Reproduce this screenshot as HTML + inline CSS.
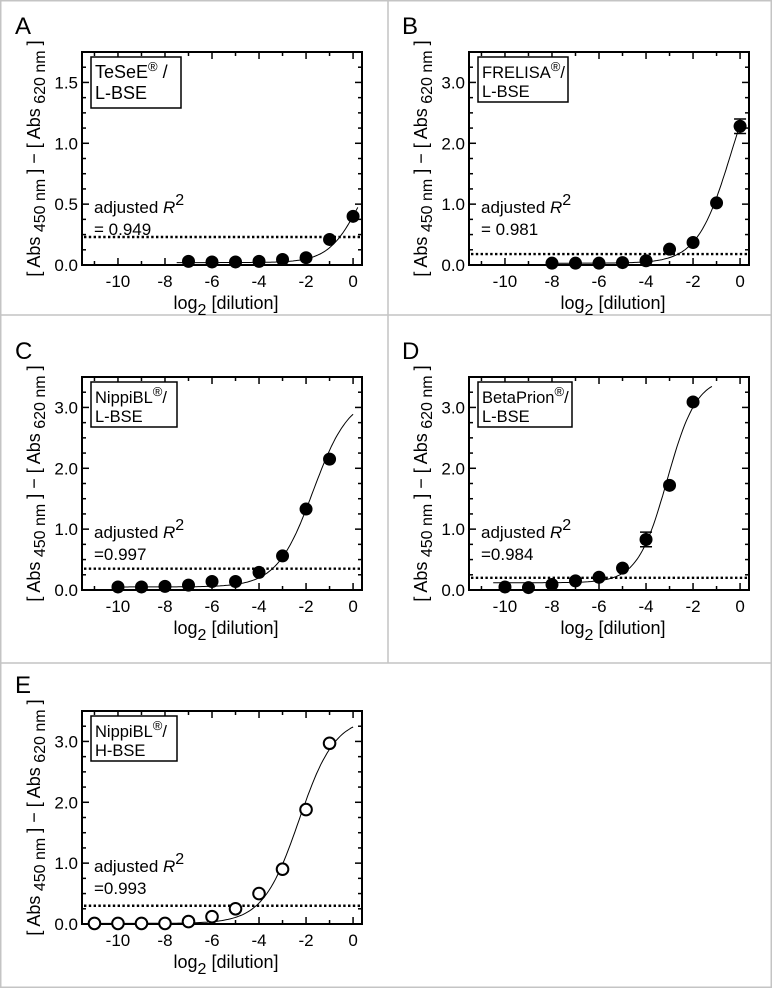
<!DOCTYPE html>
<html><head><meta charset="utf-8"><style>
html,body{margin:0;padding:0;background:#fff;}
svg{display:block;font-family:"Liberation Sans",Arial,sans-serif;}
</style></head><body>
<svg id="fig" width="772" height="988" viewBox="0 0 772 988">
  <g stroke="#c4c4c4" stroke-width="1.5" fill="none">
    <rect x="0.75" y="0.75" width="770.5" height="986.5"/>
    <line x1="388" y1="0" x2="388" y2="663"/>
    <line x1="0" y1="315" x2="772" y2="315"/>
    <line x1="0" y1="663" x2="772" y2="663"/>
  </g>
</svg>
<script>
// ---- data ----
const panelLetters = ["A","B","C","D","E"];
const assayNames = ["TeSeE","FRELISA","NippiBL","BetaPrion","NippiBL"];
const strainNames = ["L-BSE","L-BSE","L-BSE","L-BSE","H-BSE"];
const r2Labels = ["= 0.949","= 0.981","=0.997","=0.984","=0.993"];
const yMaxValues = [1.75,3.5,3.5,3.5,3.5];
const yTickLabelsA = ["0.0","0.5","1.0","1.5"];
const yTickLabelsB = ["0.0","1.0","2.0","3.0"];
const xTickLabels = ["-10","-8","-6","-4","-2","0"];
const xA = [-7,-6,-5,-4,-3,-2,-1,0];
const yA = [0.03,0.025,0.025,0.03,0.045,0.06,0.21,0.40];
const xB = [-8,-7,-6,-5,-4,-3,-2,-1,0];
const yB = [0.03,0.03,0.03,0.04,0.07,0.26,0.37,1.02,2.28];
const errB = [0,0,0,0,0,0,0,0,0.12];
const xC = [-10,-9,-8,-7,-6,-5,-4,-3,-2,-1];
const yC = [0.05,0.05,0.06,0.08,0.14,0.14,0.29,0.56,1.33,2.15];
const xD = [-10,-9,-8,-7,-6,-5,-4,-3,-2];
const yD = [0.05,0.04,0.09,0.15,0.21,0.36,0.83,1.72,3.09];
const errD = [0,0,0,0,0,0,0.12,0,0];
const xE = [-11,-10,-9,-8,-7,-6,-5,-4,-3,-2,-1];
const yE = [0.01,0.01,0.01,0.01,0.04,0.12,0.25,0.5,0.9,1.88,2.97];
const cutoffs = [0.23,0.18,0.35,0.2,0.3];
// logistic fit params: bottom, top, midpoint, slope
const fitBottom = [0.02,0.03,0.05,0.12,0.01];
const fitTop = [1.0,3.6,3.2,3.5,3.4];
const fitMid = [0.3,-0.4,-1.7,-3.1,-2.3];
const fitSlope = [1.5,1.4,1.3,1.6,1.3];
const fitStart = [-7.5,-8,-10,-10.5,-11];
const fitEnd = [0.2,0,0,-1.2,0];

const NS="http://www.w3.org/2000/svg";
const svg=document.getElementById('fig');
function mk(tag,attrs,parent){const e=document.createElementNS(NS,tag);for(const k in attrs)e.setAttribute(k,attrs[k]);(parent||svg).appendChild(e);return e;}

const boxLeft=[82,469,82,469,82], boxTop=[52,52,377,377,711];
const legendW=[90,90,86,94,86];
const W=280,H=213, XMIN=-11.53, XMAX=0.38;
const xsAll=[xA,xB,xC,xD,xE], ysAll=[yA,yB,yC,yD,yE], errAll=[null,errB,null,errD,null];

for(let p=0;p<5;p++){
  const L=boxLeft[p],T=boxTop[p],B=T+H,ymax=yMaxValues[p];
  const sx=v=>L+(v-XMIN)/(XMAX-XMIN)*W;
  const sy=v=>B-v/ymax*H;
  const g=mk('g',{});
  
  
  const t=mk('text',{x:L-67,y:T-18,'font-size':24,fill:'#000'},g);t.textContent=panelLetters[p];
  
  
  const fr=mk('rect',{x:L,y:T,width:W,height:H,fill:'none',stroke:'#000','stroke-width':2},g);
  
  
  for(let v=-11;v<=0;v++){
    const len=(v%2===0)?7:4;
    mk('line',{x1:sx(v),x2:sx(v),y1:B,y2:B-len,stroke:'#000','stroke-width':1.5},g);
    mk('line',{x1:sx(v),x2:sx(v),y1:T,y2:T+len,stroke:'#000','stroke-width':1.5},g);
  }
  xTickLabels.forEach(s=>{const v=parseFloat(s);const tx=mk('text',{x:sx(v),y:B+22,'font-size':17,'text-anchor':'middle'},g);tx.textContent=s;
    
    });
  const minor=ymax<2?0.125:0.25, major=ymax<2?0.5:1.0;
  for(let v=0;v<=ymax+1e-9;v+=minor){
    const isMaj=Math.abs(v/major-Math.round(v/major))<1e-6;const len=isMaj?7:4;
    mk('line',{x1:L,x2:L+len,y1:sy(v),y2:sy(v),stroke:'#000','stroke-width':1.5},g);
    mk('line',{x1:L+W,x2:L+W-len,y1:sy(v),y2:sy(v),stroke:'#000','stroke-width':1.5},g);
  }
  (ymax<2?yTickLabelsA:yTickLabelsB).forEach(s=>{const v=parseFloat(s);const ty=mk('text',{x:L-4,y:sy(v)+6,'font-size':17,'text-anchor':'end'},g);ty.textContent=s;
    
    });
  const xt=mk('text',{x:L+W/2+4,y:B+44,'font-size':18,'text-anchor':'middle'},g);
  xt.innerHTML='log<tspan font-size="16" dy="6">2</tspan><tspan dy="-6"> [dilution]</tspan>';
  
  
  const yt=mk('text',{x:0,y:0,'font-size':18,'text-anchor':'middle',transform:`translate(${L-42},${T+H/2}) rotate(-90)`},g);
  yt.innerHTML='[ Abs<tspan font-size="16" dy="5"> 450 nm</tspan><tspan dy="-5"> ] − [ Abs</tspan><tspan font-size="16" dy="5"> 620 nm</tspan><tspan dy="-5"> ]</tspan>';
  
  
  const lh=p===0?51:45;
  const lg=mk('rect',{x:L+9,y:T+5,width:legendW[p],height:lh,fill:'#fff',stroke:'#000','stroke-width':1.5},g);
  
  
  const l1=mk('text',{x:L+13,y:T+26,'font-size':p===0?18:16.5},g);
  l1.innerHTML=assayNames[p]+'<tspan font-size="13" dy="-7">®</tspan><tspan dy="7">'+(p===0?' /':'/')+'</tspan>';
  
  
  const l2=mk('text',{x:L+13,y:T+(p===0?47:45),'font-size':p===0?18:16.5},g);l2.textContent=strainNames[p];
  
  
  const r1=mk('text',{x:L+12,y:B-52,'font-size':17},g);
  r1.innerHTML='adjusted <tspan font-style="italic">R</tspan><tspan font-size="16" dy="-8">2</tspan>';
  
  
  const r2=mk('text',{x:L+12,y:B-30,'font-size':17},g);r2.textContent=r2Labels[p];
  
  
  const cl=mk('line',{x1:L+2,x2:L+W-2,y1:sy(cutoffs[p]),y2:sy(cutoffs[p]),stroke:'#000','stroke-width':2.4,'stroke-dasharray':'2.4,2.4'},g);
  
  
  let d='';
  for(let i=0;i<=120;i++){const x=fitStart[p]+(fitEnd[p]-fitStart[p])*i/120;
    const y=fitBottom[p]+(fitTop[p]-fitBottom[p])/(1+Math.exp(-fitSlope[p]*(x-fitMid[p])));
    d+=(i?'L':'M')+sx(x).toFixed(1)+','+sy(y).toFixed(1);}
  const fc=mk('path',{d:d,fill:'none',stroke:'#000','stroke-width':1},g);
  
  
  const xs=xsAll[p],ys=ysAll[p],er=errAll[p];
  xs.forEach((x,i)=>{
    if(er&&er[i]>0){
      const eb=mk('path',{d:`M${sx(x)},${sy(ys[i]-er[i])}V${sy(ys[i]+er[i])}M${sx(x)-6},${sy(ys[i]-er[i])}h12M${sx(x)-6},${sy(ys[i]+er[i])}h12`,stroke:'#000','stroke-width':1.5,fill:'none'},g);
      
      
    }
    const c=mk('circle',{cx:sx(x),cy:sy(ys[i]),r:p===4?5.8:6,fill:p===4?'#fff':'#000',stroke:'#000','stroke-width':p===4?2:1},g);
    
    
  });
}
</script>
</body></html>
